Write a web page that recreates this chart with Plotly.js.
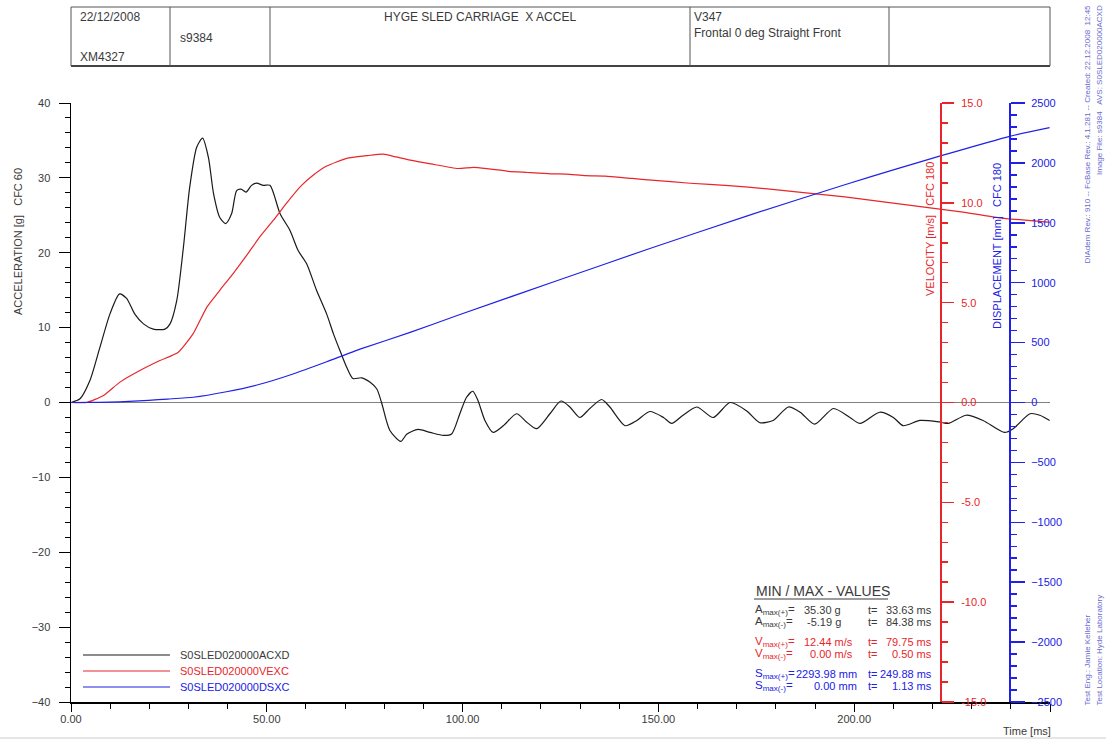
<!DOCTYPE html>
<html><head><meta charset="utf-8">
<script src="https://cdn.plot.ly/plotly-3.0.1.min.js"></script>
<style>html,body{margin:0;padding:0;background:#fff;} #chart{width:1106px;height:740px;}</style>
</head><body><div id="chart"></div>
<script>
// ---------- DATA ----------
const accelT = [0,2.3,4.8,7.4,10.0,12.4,14.2,16.3,18.5,21.0,24.0,25.3,27.0,28.7,30.3,32.1,33.6,35.1,36.4,38.0,39.5,41.0,42.3,43.4,44.7,46.1,47.4,49.1,50.8,53.4,55.9,58.0,60.2,62.7,65.3,67.0,68.7,70.4,72.0,74.2,76.4,78.1,79.3,81.4,84.2,85.8,88.6,91.7,95.1,97.2,99.3,101.0,102.6,103.9,105.7,107.8,110.4,113.8,116.3,118.9,122.3,125.1,127.4,129.9,132.5,135.5,137.6,141.5,144.5,147.8,151.3,153.4,156.3,159.8,164.0,168.3,172.5,175.9,179.3,183.2,186.2,189.9,194.7,198.9,201.5,206.5,210.0,212.5,216.8,221.8,224.0,228.6,232.9,238.4,240.6,244.9,247.4,249.9];
const accelG = [0,0.5,2.9,7.4,11.9,14.5,13.9,11.8,10.5,9.8,9.8,10.5,13.6,20.7,28.7,34.1,35.3,32.7,27.9,24.7,23.9,25.2,28.3,28.5,28.1,29.0,29.3,29.0,29.0,25.2,23.0,20.3,18.5,15.0,11.8,9.2,6.9,4.7,3.2,3.3,2.7,1.8,0.0,-3.7,-5.2,-4.2,-3.6,-4.0,-4.4,-4.2,-1.5,0.7,1.5,0.3,-2.4,-4.0,-3.1,-1.5,-2.6,-3.5,-1.5,0.2,-0.6,-2.0,-0.8,0.4,-0.6,-3.1,-2.4,-1.2,-2.0,-2.8,-1.7,-0.6,-2.0,0.0,-1.1,-2.7,-2.4,-0.6,-1.3,-2.9,-0.8,-2.0,-2.8,-1.3,-2.0,-3.1,-2.4,-2.6,-2.8,-1.7,-2.4,-4.0,-3.5,-1.5,-1.7,-2.4];
const veloT = [0,4.0,8.3,12.5,17.6,22.7,27.4,31.2,34.7,38.0,41.4,44.9,48.2,51.7,55.0,58.5,61.9,65.3,70.4,75.5,79.75,83.0,86.6,91.9,98.8,102.8,106.7,111.7,116.6,122.5,126.5,131.4,136.4,143.3,148.2,158.1,168.0,177.9,187.7,197.6,207.5,217.4,227.3,237.1,249.9];
const veloV = [0,0,0.35,1.02,1.6,2.1,2.52,3.45,4.78,5.62,6.46,7.38,8.29,9.13,9.97,10.80,11.39,11.84,12.23,12.36,12.44,12.30,12.14,11.95,11.72,11.78,11.70,11.58,11.52,11.45,11.44,11.36,11.34,11.22,11.14,10.98,10.86,10.70,10.50,10.30,10.05,9.80,9.55,9.25,9.02];
const dispT = [0,4.9,9.9,14.8,19.8,24.7,31.2,39.7,48.2,56.7,65.3,73.8,86.6,98.8,123.5,148.2,172.9,197.6,211.7,222.0,239.7,249.9];
const dispS = [0,0.5,3,9,18,29,44,90,152,238,340,445,585,728,1010,1290,1560,1818,1958,2058,2222,2294];

const xTickVals = [0,50,100,150,200,250];
const xTickText = ['0.00','50.00','100.00','150.00','200.00',''];
const accTickVals = [-40,-30,-20,-10,0,10,20,30,40];
const velTickVals = [-15,-10,-5,0,5,10,15];
const dispTickVals = [-2500,-2000,-1500,-1000,-500,0,500,1000,1500,2000,2500];

const seriesNames = ['S0SLED020000ACXD','S0SLED020000VEXC','S0SLED020000DSXC'];
const axisTitles = ['ACCELERATION [g]\u00a0\u00a0\u00a0CFC 60','VELOCITY [m/s]\u00a0\u00a0\u00a0CFC 180','DISPLACEMENT [mm]\u00a0\u00a0\u00a0CFC 180'];
const headerDate = '22/12/2008', headerId = 'XM4327', headerTest = 's9384';
const headerTitle = 'HYGE SLED CARRIAGE\u00a0\u00a0X ACCEL';
const headerVeh = 'V347', headerDesc = 'Frontal 0 deg Straight Front';
const sideInfo1 = 'DIAdem Rev.: 910 -- FcBase Rev.: 4.1.281 -- Created: 22.12.2008\u00a0\u00a012:45';
const sideInfo2 = 'Image File: s9384\u00a0\u00a0\u00a0AVS: S0SLED020000ACXD';
const sideInfo3 = 'Test Eng.: Jamie Kelleher';
const sideInfo4 = 'Test Location: Hyde Laboratory';

const mmTitle = 'MIN / MAX - VALUES';
const mmSym  = ['A','A','V','V','S','S'];
const mmSub  = ['max(+)','max(-)','max(+)','max(-)','max(+)','max(-)'];
const mmVal  = ['35.30','-5.19','12.44','0.00','2293.98','0.00'];
const mmUnit = ['g','g','m/s','m/s','mm','mm'];
const mmTime = ['33.63','84.38','79.75','0.50','249.88','1.13'];

// ---------- STYLE / LAYOUT ----------
const FONT = 'Liberation Sans, Arial, sans-serif';
const CBLK = '#1a1a1a', CRED = '#e8262a', CBLU = '#2020e6', CTXT = '#3a3a3a', CSIDE = '#6a6ad0';
const W=1106,H=740,ML=71,MR=56,MT=103,MB=38,PW=W-ML-MR,PH=H-MT-MB;
const X = p => (p-ML)/PW, Y = p => (H-MB-p)/PH;

const traces = [
  {x: accelT, y: accelG, type:'scatter', mode:'lines', name: seriesNames[0], yaxis:'y',
   line:{color:CBLK, width:1.2, shape:'spline', smoothing:0.7}},
  {x: veloT, y: veloV, type:'scatter', mode:'lines', name: seriesNames[1], yaxis:'y2',
   line:{color:CRED, width:1.2, shape:'spline', smoothing:0.5}},
  {x: dispT, y: dispS, type:'scatter', mode:'lines', name: seriesNames[2], yaxis:'y3',
   line:{color:CBLU, width:1.2, shape:'spline', smoothing:0.5}}
];

const shapes = [];
const ann = [];
function line(x0,y0,x1,y1,color,width){shapes.push({type:'line',xref:'paper',yref:'paper',x0:X(x0),y0:Y(y0),x1:X(x1),y1:Y(y1),line:{color:color,width:width}});}
function txt(t,x,y,opts){ann.push(Object.assign({text:t,xref:'paper',yref:'paper',x:X(x),y:Y(y),showarrow:false,xanchor:'left',yanchor:'middle',font:{family:FONT,size:12,color:CTXT}},opts||{}));}

// header table
line(71,7,1050,7,'#555',1);
line(71,66,1050,66,'#444',2);
line(71,7,71,66,'#555',1);
line(1050,7,1050,66,'#555',1);
[170,270,690,889].forEach(p=>line(p,7,p,66,'#555',1));
txt(headerDate,78,17);
txt(headerId,78,57);
txt(headerTest,178,38);
txt(headerTitle,480,17,{xanchor:'center'});
txt(headerVeh,692,17);
txt(headerDesc,692,33);

// page bottom border
line(0,738,1106,738,'#cccccc',1);

// side info
txt(sideInfo1,1087,3,{textangle:-90,xanchor:'center',yanchor:'top',font:{family:FONT,size:8,color:CSIDE}});
txt(sideInfo2,1099,3,{textangle:-90,xanchor:'center',yanchor:'top',font:{family:FONT,size:8,color:CSIDE}});
txt(sideInfo3,1087,708,{textangle:-90,xanchor:'center',yanchor:'bottom',font:{family:FONT,size:8,color:CSIDE}});
txt(sideInfo4,1099,708,{textangle:-90,xanchor:'center',yanchor:'bottom',font:{family:FONT,size:8,color:CSIDE}});

// axis titles
txt(axisTitles[0],18,242,{textangle:-90,xanchor:'center',font:{family:FONT,size:11,color:CTXT}});
txt(axisTitles[1],930,229,{textangle:-90,xanchor:'center',font:{family:FONT,size:11,color:CRED}});
txt(axisTitles[2],997,246,{textangle:-90,xanchor:'center',font:{family:FONT,size:11,color:CBLU}});
txt('Time [ms]',1027,731,{xanchor:'center',font:{family:FONT,size:11,color:CTXT}});

// legend
const legCols = [CBLK, CRED, CBLU];
const legTxt = ['#3a3a3a', CRED, CBLU];
[655,671,687].forEach((py,i)=>{
  line(83,py,170,py,legCols[i],1.2);
  txt(seriesNames[i],178,py,{font:{family:FONT,size:11,color:legTxt[i]}});
});

// min / max box
txt(mmTitle,754,591,{font:{family:FONT,size:14,color:CTXT}});
line(754,599,888,599,CTXT,1);
const mmCol = [CTXT,CTXT,CRED,CRED,CBLU,CBLU];
const mmY = [610,622,642,654,674,686];
const mmRight = [843,843,855,855,859,859];
for(let i=0;i<6;i++){
  const fl = {family:FONT,size:11.5,color:mmCol[i]};
  const f11 = {family:FONT,size:11,color:mmCol[i]};
  txt(mmSym[i]+'<sub>'+mmSub[i]+'</sub>=',753,mmY[i],{font:fl});
  txt(mmVal[i]+' '+mmUnit[i],mmRight[i],mmY[i],{xanchor:'right',font:f11});
  txt('t=',866,mmY[i],{font:f11});
  txt(mmTime[i]+' ms',934,mmY[i],{xanchor:'right',font:f11});
}

const tf = c => ({family:FONT,size:11,color:c});
const layout = {
  width:W, height:H,
  margin:{l:ML,r:MR,t:MT,b:MB,pad:0},
  paper_bgcolor:'#fff', plot_bgcolor:'rgba(0,0,0,0)',
  showlegend:false,
  font:{family:FONT,size:11,color:CTXT},
  xaxis:{range:[0,250], domain:[0,1], showline:true, linecolor:'#000', linewidth:1.5,
    ticks:'outside', ticklen:8, tickcolor:'#000', tickwidth:1,
    tickmode:'array', tickvals:xTickVals, ticktext:xTickText, tickfont:tf(CTXT), ticklabelstandoff:-2,
    minor:{tickmode:'linear', tick0:0, dtick:10, ticks:'outside', ticklen:5, tickcolor:'#000', showgrid:false},
    showgrid:false, zeroline:false},
  yaxis:{range:[-40,40], showline:true, linecolor:'#000', linewidth:1.5,
    ticks:'outside', ticklen:11, tickcolor:'#000', tickwidth:1,
    tickmode:'array', tickvals:accTickVals, tickfont:tf(CTXT), ticklabelstandoff:6,
    minor:{tickmode:'linear', tick0:0, dtick:2, ticks:'outside', ticklen:5, tickcolor:'#000', showgrid:false},
    showgrid:false, zeroline:true, zerolinecolor:'#808080', zerolinewidth:1.5},
  yaxis2:{overlaying:'y', anchor:'free', position:X(941), side:'right', range:[-15,15],
    showline:true, linecolor:CRED, linewidth:2,
    ticks:'outside', ticklen:12, tickcolor:CRED, tickwidth:1.5,
    tickmode:'array', tickvals:velTickVals, ticktext:velTickVals.map(v=>v.toFixed(1)), tickfont:tf(CRED), ticklabelstandoff:5,
    minor:{tickmode:'linear', tick0:0, dtick:1, ticks:'outside', ticklen:6, tickcolor:CRED, showgrid:false},
    showgrid:false, zeroline:false},
  yaxis3:{overlaying:'y', anchor:'free', position:X(1010), side:'right', range:[-2500,2500],
    showline:true, linecolor:CBLU, linewidth:2,
    ticks:'outside', ticklen:14, tickcolor:CBLU, tickwidth:1.5,
    tickmode:'array', tickvals:dispTickVals, tickfont:tf(CBLU), ticklabelstandoff:4,
    minor:{tickmode:'linear', tick0:0, dtick:100, ticks:'outside', ticklen:6, tickcolor:CBLU, showgrid:false},
    showgrid:false, zeroline:false},
  shapes:shapes,
  annotations:ann
};
Plotly.newPlot('chart', traces, layout, {displayModeBar:false, staticPlot:true});
</script>
</body></html>
